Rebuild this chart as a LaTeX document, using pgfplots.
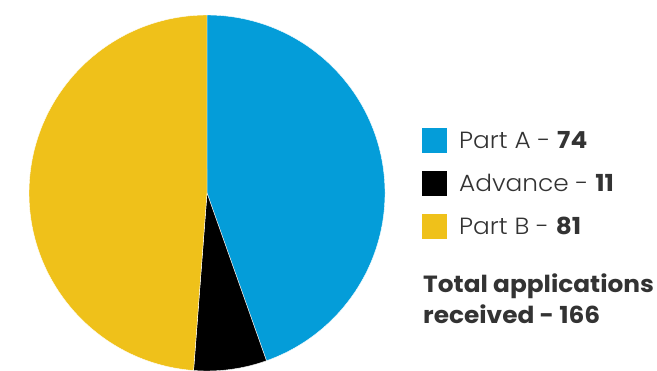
\documentclass[border=0pt]{standalone}
\usepackage{pgfplots}
\usepackage{pgfplotstable}
\pgfplotsset{compat=1.18}
\usepackage{fontspec}
\setmainfont{Poppins}[FakeStretch=1.06, UprightFont=* Light, BoldFont=* Bold]
\definecolor{partA}{HTML}{049DD9}
\definecolor{adv}{HTML}{000000}
\definecolor{partB}{HTML}{EFC11A}
\definecolor{txt}{HTML}{333333}
\pgfplotstableread{
label value
PartA 74
Advance 11
PartB 81
}\datatable
\begin{document}
\begin{tikzpicture}
\pgfplotstablegetelem{0}{value}\of\datatable \let\va\pgfplotsretval
\pgfplotstablegetelem{1}{value}\of\datatable \let\vb\pgfplotsretval
\pgfplotstablegetelem{2}{value}\of\datatable \let\vc\pgfplotsretval
\pgfmathtruncatemacro\tot{\va+\vb+\vc}
\pgfmathsetmacro\aA{90-360*(\va/\tot)}
\pgfmathsetmacro\aB{\aA-360*(\vb/\tot)}
\pgfmathsetmacro\aC{\aB-360*(\vc/\tot)}
\begin{axis}[
  width=657bp, height=371bp, scale only axis,
  xmin=0, xmax=657, ymin=0, ymax=371, y dir=reverse,
  hide axis, clip=true,
]
\fill[partA, draw=white, line width=0.4bp] (axis cs:207,193) -- ++(90:178bp) arc[start angle=90, end angle=\aA, radius=178bp] -- cycle;
\fill[adv, draw=white, line width=0.4bp] (axis cs:207,193) -- ++(\aA:178bp) arc[start angle=\aA, end angle=\aB, radius=178bp] -- cycle;
\fill[partB, draw=white, line width=0.4bp] (axis cs:207,193) -- ++(\aB:178bp) arc[start angle=\aB, end angle=\aC, radius=178bp] -- cycle;
\fill[partA] (axis cs:422,128) rectangle (axis cs:447,153);
\fill[adv] (axis cs:422,171) rectangle (axis cs:447,196);
\fill[partB] (axis cs:422,214) rectangle (axis cs:447,239);
\path[font=\fontsize{23.5}{28}\selectfont, text=txt]
  (axis cs:459,148.5) node[anchor=base west, inner sep=0pt] {Part A - \textbf{\va}}
  (axis cs:459,191.5) node[anchor=base west, inner sep=0pt] {Advance - \textbf{\vb}}
  (axis cs:459,234.5) node[anchor=base west, inner sep=0pt] {Part B - \textbf{\vc}};
\path[font=\fontsize{23.5}{28}\selectfont\bfseries, text=txt]
  (axis cs:423,292.5) node[anchor=base west, inner sep=0pt] {Total applications}
  (axis cs:423,323.5) node[anchor=base west, inner sep=0pt] {received - \tot};
\end{axis}
\pgfresetboundingbox
\useasboundingbox (current axis.south west) rectangle (current axis.north east);
\end{tikzpicture}
\end{document}
